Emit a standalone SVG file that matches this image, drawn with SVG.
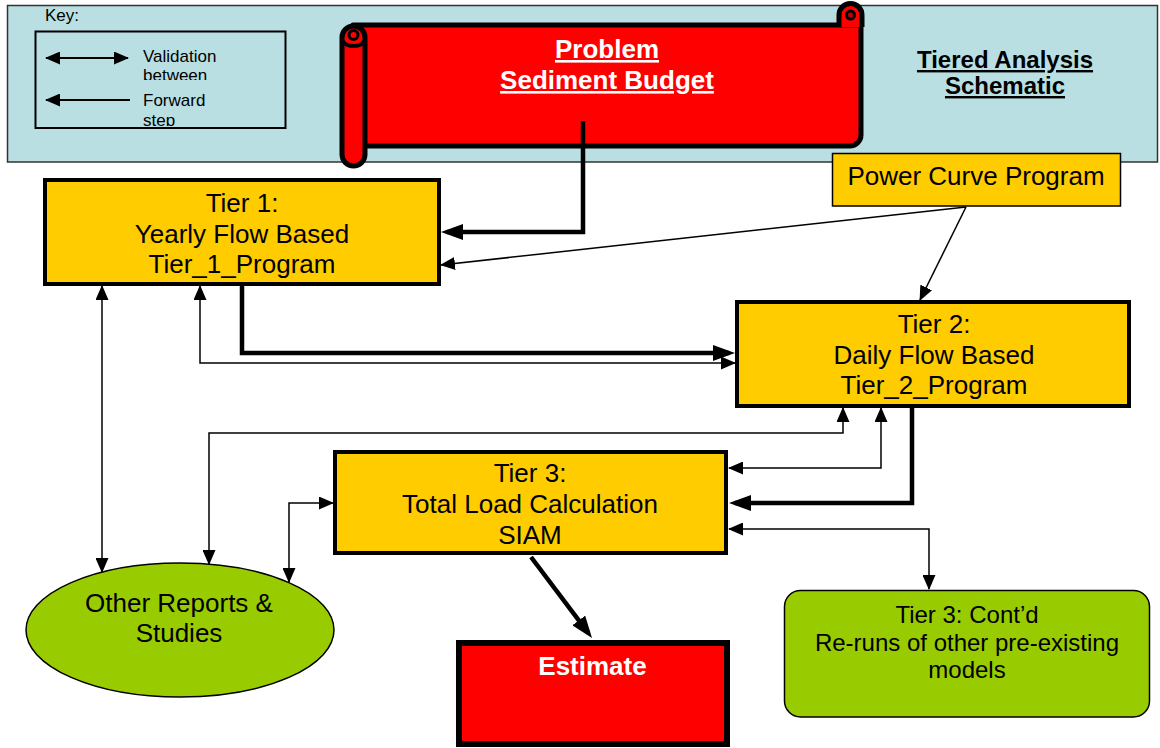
<svg xmlns="http://www.w3.org/2000/svg" width="1160" height="748" viewBox="0 0 1160 748">
<style>
.t{font-family:"Liberation Sans",Arial,sans-serif;fill:#000}
.c{text-anchor:middle;font-size:26px}
.k{font-size:17px}
.wb{font-family:"Liberation Sans",Arial,sans-serif;font-weight:bold;fill:#fff;text-anchor:middle;font-size:26px}
.box{fill:#FFCC00;stroke:#000;stroke-width:4}
.thin{fill:none;stroke:#000;stroke-width:1.5}
.thick{fill:none;stroke:#000;stroke-width:4.5}
.scr{fill:#FF0000;stroke:#000;stroke-width:5;stroke-linejoin:round}
</style>
<defs>
<marker id="a" viewBox="0 0 15 13" refX="14" refY="6.5" markerWidth="15" markerHeight="13" markerUnits="userSpaceOnUse" orient="auto-start-reverse"><path d="M0,0 L15,6.5 L0,13 z" fill="#000"/></marker>
<marker id="A" viewBox="0 0 22 16" refX="16" refY="8" markerWidth="22" markerHeight="16" markerUnits="userSpaceOnUse" orient="auto"><path d="M0,0 L22,8 L0,16 z" fill="#000"/></marker>
<clipPath id="c1"><rect x="140" y="40" width="120" height="40"/></clipPath>
<clipPath id="c2"><rect x="140" y="84" width="120" height="42"/></clipPath>
</defs>

<g id="header">
<rect x="7.5" y="5.5" width="1150" height="156.5" fill="#BADFE3" stroke="#333" stroke-width="1.5"/>
</g>

<g id="key">
<text class="t k" x="45" y="21">Key:</text>
<rect x="35.5" y="31.5" width="250" height="96.5" fill="none" stroke="#000" stroke-width="2"/>
<line class="thin" x1="46" y1="58" x2="128" y2="58" marker-start="url(#a)" marker-end="url(#a)" style="stroke-width:2"/>
<line class="thin" x1="130" y1="100" x2="46" y2="100" marker-end="url(#a)" style="stroke-width:2"/>
<text class="t k" x="143" y="62" clip-path="url(#c1)">Validation</text>
<text class="t k" x="143" y="81" clip-path="url(#c1)">between</text>
<text class="t k" x="143" y="106" clip-path="url(#c2)">Forward</text>
<text class="t k" x="143" y="126" clip-path="url(#c2)">step</text>
</g>

<g id="problem">
<path class="scr" d="M 353,25 H 861 V 135 A 11 11 0 0 1 850 146 H 353 Z"/>
<path class="scr" d="M 839,27 V 15 A 11.5 11.5 0 0 1 862 15 V 27"/>
<circle cx="850.5" cy="15" r="4" fill="#C00000" stroke="#000" stroke-width="3"/>
<rect class="scr" x="342" y="26" width="23" height="140" rx="11.5"/>
<path d="M 342.5,40 A 11 6 0 0 0 364.5 40" fill="none" stroke="#000" stroke-width="4"/>
<circle cx="353.5" cy="35" r="4.5" fill="#FF0000" stroke="#000" stroke-width="3"/>
<text class="wb" x="607" y="58" text-decoration="underline">Problem</text>
<text class="wb" x="607" y="89" text-decoration="underline">Sediment Budget</text>
</g>

<g id="title">
<text class="t" x="1005" y="68" text-anchor="middle" font-weight="bold" font-size="24" text-decoration="underline">Tiered Analysis</text>
<text class="t" x="1005" y="94" text-anchor="middle" font-weight="bold" font-size="24" text-decoration="underline">Schematic</text>
</g>

<g id="power-curve">
<rect x="832.5" y="153.5" width="288" height="52.5" fill="#FFCC00" stroke="#000" stroke-width="1.5"/>
<text class="t c" x="976" y="185">Power Curve Program</text>
</g>

<g id="tier1">
<rect class="box" x="45" y="180" width="394" height="104"/>
<text class="t c" x="242" y="212">Tier 1:</text>
<text class="t c" x="242" y="243">Yearly Flow Based</text>
<text class="t c" x="242" y="273">Tier_1_Program</text>
</g>

<g id="tier2">
<rect class="box" x="737" y="302" width="392" height="104"/>
<text class="t c" x="934" y="333">Tier 2:</text>
<text class="t c" x="934" y="364">Daily Flow Based</text>
<text class="t c" x="934" y="394">Tier_2_Program</text>
</g>

<g id="tier3">
<rect class="box" x="335" y="452" width="391" height="101"/>
<text class="t c" x="530" y="482">Tier 3:</text>
<text class="t c" x="530" y="513">Total Load Calculation</text>
<text class="t c" x="530" y="544">SIAM</text>
</g>

<g id="other-reports">
<ellipse cx="180" cy="630" rx="154" ry="67" fill="#99CC00" stroke="#000" stroke-width="1.5"/>
<text class="t c" x="179" y="612">Other Reports &amp;</text>
<text class="t c" x="179" y="642">Studies</text>
</g>

<g id="estimate">
<rect x="459" y="643" width="268" height="101" fill="#FF0000" stroke="#000" stroke-width="6"/>
<text class="wb" x="592.5" y="675">Estimate</text>
</g>

<g id="tier3-contd">
<rect x="784.5" y="590.5" width="365" height="126.5" rx="16" fill="#99CC00" stroke="#000" stroke-width="1.5"/>
<text class="t" x="967" y="623" text-anchor="middle" font-size="24">Tier 3: Cont’d</text>
<text class="t" x="967" y="651" text-anchor="middle" font-size="24">Re-runs of other pre-existing</text>
<text class="t" x="967" y="678" text-anchor="middle" font-size="24">models</text>
</g>

<g id="connectors">
<path class="thick" d="M 583,121 V 232 H 447" marker-end="url(#A)"/>
<path class="thin" d="M 966,207 L 441,265" marker-end="url(#a)"/>
<path class="thin" d="M 966,207 L 920,300" marker-end="url(#a)"/>
<path class="thick" d="M 242,286 V 353 H 729" marker-end="url(#A)"/>
<path class="thin" d="M 735,363 H 200 V 286" marker-start="url(#a)" marker-end="url(#a)"/>
<path class="thin" d="M 102,286 V 572" marker-start="url(#a)" marker-end="url(#a)"/>
<path class="thin" d="M 843,408 V 433 H 209 V 564" marker-start="url(#a)" marker-end="url(#a)"/>
<path class="thin" d="M 881,408 V 468 H 729" marker-start="url(#a)" marker-end="url(#a)"/>
<path class="thick" d="M 912,408 V 503 H 735" marker-end="url(#A)"/>
<path class="thin" d="M 729,529 H 929 V 589" marker-start="url(#a)" marker-end="url(#a)"/>
<path class="thin" d="M 289,582 V 503 H 333" marker-start="url(#a)" marker-end="url(#a)"/>
<path class="thick" d="M 531,557 L 588.4,633.2" marker-end="url(#A)"/>
</g>
</svg>
